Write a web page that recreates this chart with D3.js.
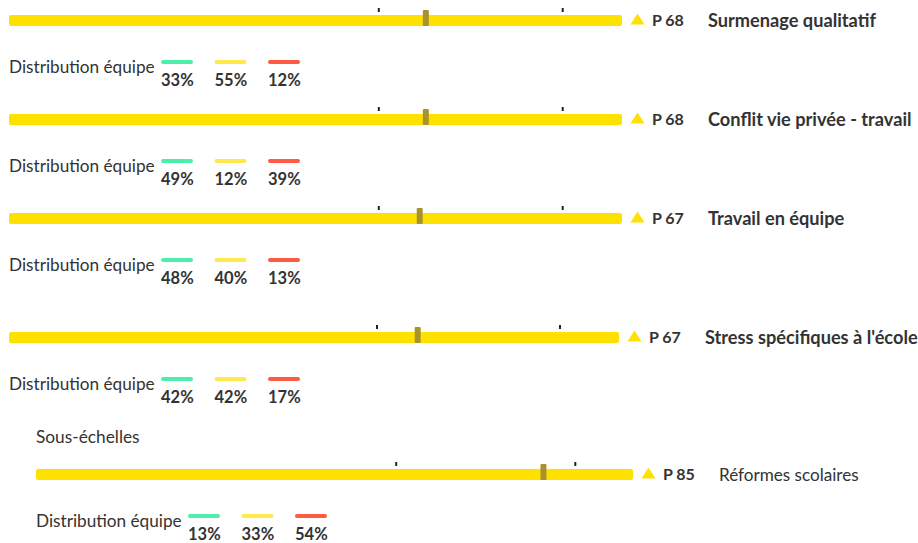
<!DOCTYPE html>
<html lang="fr">
<head>
<meta charset="UTF-8">
<title>Sous-échelles</title>
<script src="https://cdn.jsdelivr.net/npm/d3@7"></script>
<style>
  body { margin: 0; background: #fff; }
  svg { display: block; font-family: "Lato", "Noto Sans", sans-serif; }
</style>
</head>
<body>
<script>
// data
const scaleNames = ["Surmenage qualitatif", "Conflit vie privée - travail", "Travail en équipe", "Stress spécifiques à l'école", "Réformes scolaires"]
const percentiles = [68, 68, 67, 67, 85]
const greenShare = [33, 49, 48, 42, 13]
const yellowShare = [55, 12, 40, 42, 33]
const redShare = [12, 39, 13, 17, 54]
const tickValues = [60, 90]
const distLabel = "Distribution équipe"
const sectionLabel = "Sous-échelles"

// layout for each row (bar left, bar right, bar centre, bold title)
const rows = [
  {x0: 9, x1: 622, y: 20.5, bold: true},
  {x0: 9, x1: 622, y: 119.5, bold: true},
  {x0: 9, x1: 622, y: 218.5, bold: true},
  {x0: 9, x1: 619, y: 337.5, bold: true},
  {x0: 36, x1: 633, y: 474.5, bold: false}
]
const distColours = ["#4cefa7", "#ffe94d", "#ff5b42"]
const textColour = "#333"

const width = 918, height = 543
const svg = d3.select("body").append("svg").attr("width", width).attr("height", height)

svg.append("text")
  .attr("x", 36).attr("y", 443)
  .attr("font-size", 17.3).attr("fill", textColour)
  .text(sectionLabel)

rows.forEach((r, i) => {
  const g = svg.append("g")
  const x = d3.scaleLinear().domain([0, 100]).range([r.x0, r.x1])
  const barH = 11
  const top = r.y - barH / 2

  g.append("rect")
    .attr("x", x(0)).attr("y", top)
    .attr("width", x(100) - x(0)).attr("height", barH)
    .attr("rx", 2).attr("fill", "#ffe100")

  // tick marks above the bar
  const axis = d3.axisTop(x).tickValues(tickValues).tickSize(4).tickFormat("")
  g.append("g")
    .attr("transform", `translate(1.5,${top - 3})`)
    .call(axis)
    .call(a => a.select(".domain").remove())
    .selectAll("line").attr("stroke", "#222").attr("stroke-width", 2)

  // percentile marker
  g.append("rect")
    .attr("x", x(percentiles[i]) - 3).attr("y", top - 5)
    .attr("width", 6).attr("height", barH + 5)
    .attr("rx", 1).attr("fill", "#a8922b")

  // triangle + value
  const tx = r.x1 + 15.5
  g.append("path")
    .attr("d", `M${tx - 7},${top + 9.5} L${tx},${top - 1.5} L${tx + 7},${top + 9.5} Z`)
    .attr("fill", "#ffe100")
  g.append("text")
    .attr("x", r.x1 + 30).attr("y", r.y + 5.5)
    .attr("font-size", 16).attr("font-weight", "bold").attr("fill", textColour)
    .text("P " + percentiles[i])
  g.append("text")
    .attr("x", r.x1 + 86).attr("y", r.y + 6)
    .attr("font-size", r.bold ? 18.2 : 17.1).attr("font-weight", r.bold ? "bold" : "normal")
    .attr("fill", textColour)
    .text(scaleNames[i])

  // team distribution
  g.append("text")
    .attr("x", r.x0).attr("y", r.y + 52.5)
    .attr("font-size", 17.2).attr("fill", textColour)
    .text(distLabel)

  const shares = [greenShare[i], yellowShare[i], redShare[i]]
  const col = d3.scalePoint().domain([0, 1, 2]).range([r.x0 + 152, r.x0 + 259])
  g.selectAll(".dist-line").data(shares).enter().append("rect")
    .attr("x", (d, k) => col(k)).attr("y", r.y + 39.5)
    .attr("width", 32).attr("height", 4).attr("rx", 2)
    .attr("fill", (d, k) => distColours[k])
  g.selectAll(".dist-val").data(shares).enter().append("text")
    .attr("x", (d, k) => col(k)).attr("y", r.y + 65.5)
    .attr("font-size", 16.5).attr("font-weight", "bold").attr("fill", textColour)
    .text(d => d + "%")
})
</script>
</body>
</html>
